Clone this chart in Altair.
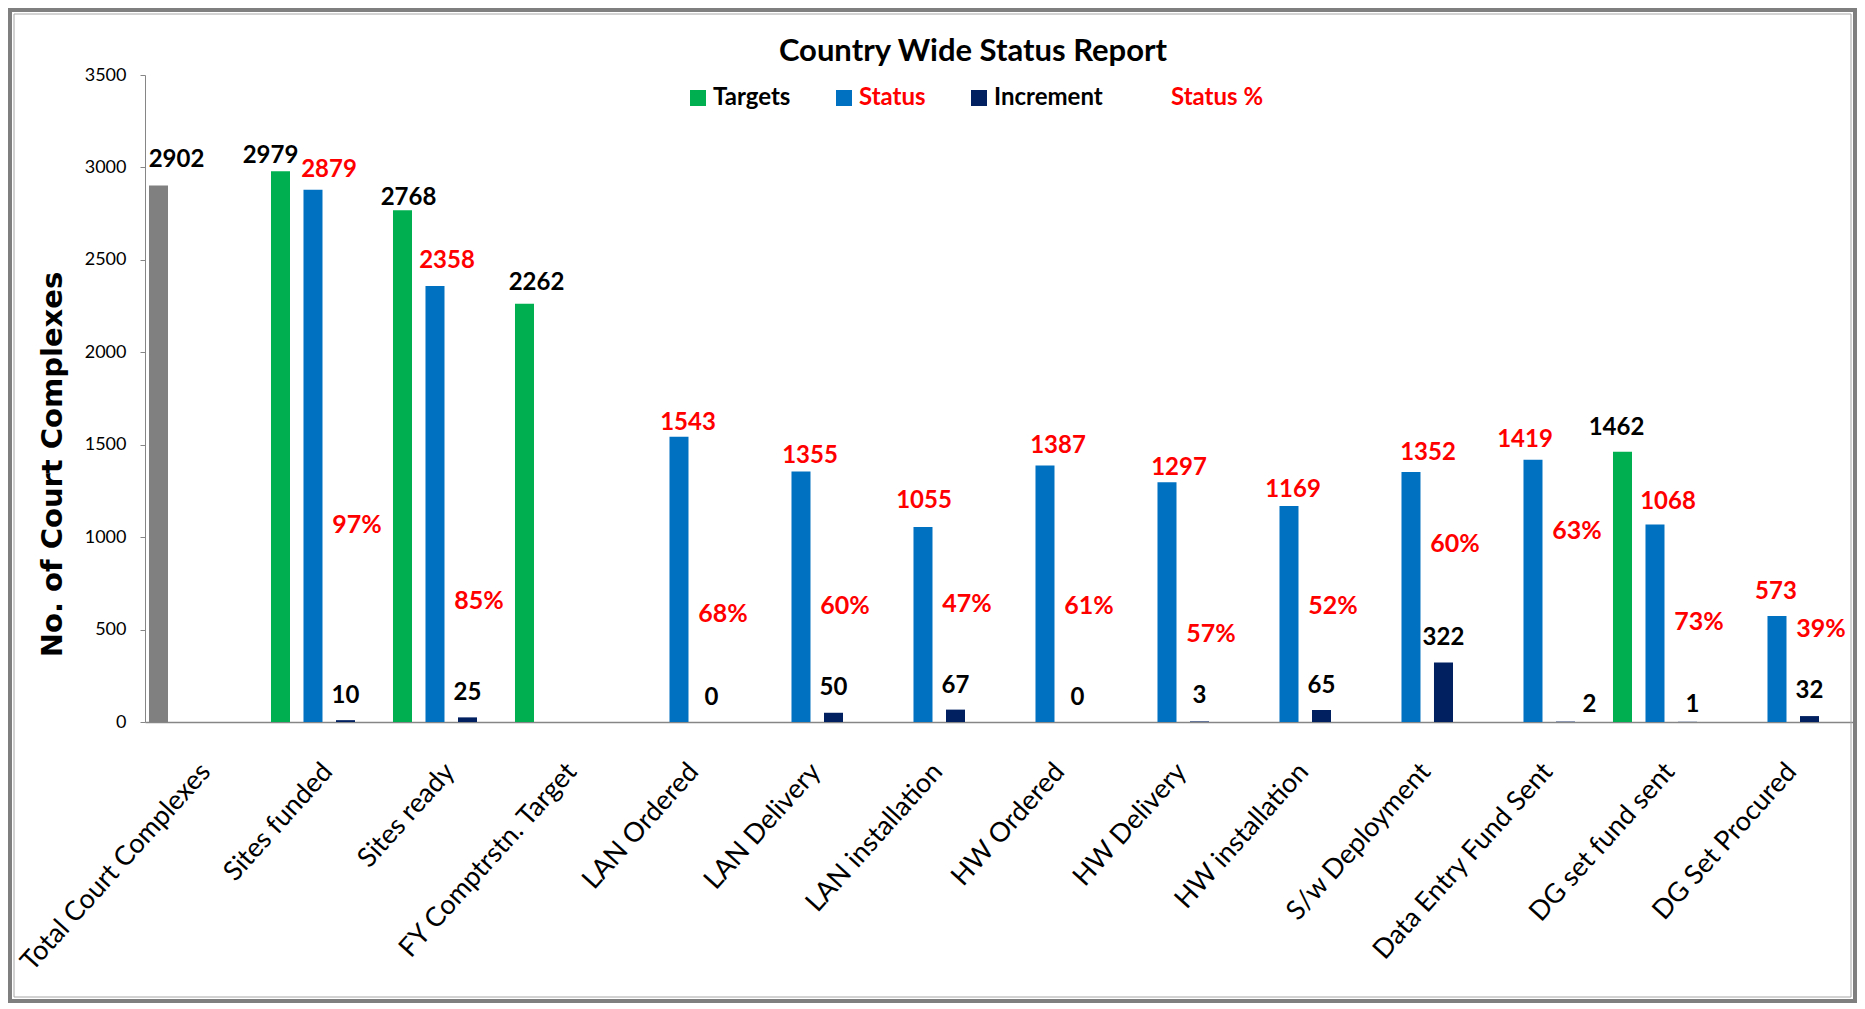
import altair as alt
import pandas as pd

# ---------------- data ----------------
categories = ["Total Court Complexes", "Sites funded", "Sites ready", "FY Comptrstn.  Target",
              "LAN Ordered", "LAN Delivery", "LAN installation", "HW Ordered", "HW Delivery",
              "HW installation", "S/w Deployment", "Data Entry Fund Sent", "DG set fund sent",
              "DG Set Procured"]
targets = [2902, 2979, 2768, 2262, None, None, None, None, None, None, None, None, 1462, None]
status = [None, 2879, 2358, None, 1543, 1355, 1055, 1387, 1297, 1169, 1352, 1419, 1068, 573]
increment = [None, 10, 25, None, 0, 50, 67, 0, 3, 65, 322, 2, 1, 32]
status_pct = [None, 97, 85, None, 68, 60, 47, 61, 57, 52, 60, 63, 73, 39]

# ---------------- label layout (hand placement in the original) ----------------
# height (in axis units) at which each Status % label sits
pct_label_at = [None, 1066, 656, None, 584, 629, 638, 629, 476, 629, 963, 1035, 539, 503]
# horizontal / vertical nudges (px) of the value labels
target_nudge_x = [18, -10, 6, 12, 0, 0, 0, 0, 0, 0, 0, 0, -6, 0]
target_nudge_y = [19, 8, 5, 14, 0, 0, 0, 0, 0, 0, 0, 0, 17, 0]
status_nudge_x = [0, 16, 12, 0, 9, 9, 1, 13, 12, 4, 17, -8, 13, -1]
status_nudge_y = [0, 13, 18, 0, 7, 9, 19, 13, 7, 9, 12, 13, 16, 17]
incr_nudge_x = [0, 0, 0, 0, 0, 0, 0, 0, 0, 0, 0, 24, 5, 0]
incr_nudge_y = [0, 17, 17, 0, 17, 18, 17, 17, 18, 17, 17, 10, 10, 18]

series_names = ["Targets", "Status", "Increment"]
legend_names = ["Targets", "Status", "Increment", "Status %"]

rows = []
for i, c in enumerate(categories):
    for s, arr, nx, ny in zip(series_names, [targets, status, increment],
                              [target_nudge_x, status_nudge_x, incr_nudge_x],
                              [target_nudge_y, status_nudge_y, incr_nudge_y]):
        v = arr[i]
        if v is not None:
            key = "Total" if (s == "Targets" and c == "Total Court Complexes") else s
            rows.append({"category": c, "series": s, "value": v, "colorkey": key,
                         "ndx": nx[i], "ndy": -ny[i]})
df = pd.DataFrame(rows)

pct_rows = []
for i, c in enumerate(categories):
    if status_pct[i] is not None:
        pct_rows.append({"category": c, "value": pct_label_at[i], "label": f"{status_pct[i]}%"})
pct_df = pd.DataFrame(pct_rows)

# ---------------- style ----------------
FONT = "Lato, Liberation Sans, sans-serif"
GREEN, BLUE, NAVY, GRAY, RED = "#00B050", "#0070C0", "#002060", "#808080", "#FF0000"
W, H = 1708, 647

x_enc = alt.X("category:N", sort=categories,
              scale=alt.Scale(paddingInner=0, paddingOuter=0),
              axis=alt.Axis(title=None, ticks=False, tickSize=0, domainColor="#868686",
                            domainWidth=1.5, labelAngle=-48, labelAlign="right",
                            labelBaseline="middle", labelFont=FONT, labelFontSize=27,
                            labelColor="#000000", labelPadding=45, labelOffset=0,
                            labelLimit=500, labelOverlap=False))
xo_enc = alt.XOffset("series:N",
                     scale=alt.Scale(domain=series_names, paddingInner=0.415,
                                     paddingOuter=0.5845, align=0.105))
y_enc = alt.Y("value:Q",
              scale=alt.Scale(domain=[0, 3500], nice=False, zero=True),
              axis=alt.Axis(values=list(range(0, 3501, 500)), format="d", grid=False, tickSize=5,
                            tickColor="#868686", domainColor="#868686", domainWidth=1,
                            labelFont=FONT, labelFontSize=18, labelColor="#000000",
                            labelPadding=14, title="No. of Court Complexes",
                            titleFont="DejaVu Sans", titleFontSize=29, titleFontWeight="bold",
                            titleColor="#000000", titleX=-93, titleY=389,
                            titleBaseline="middle", titleAlign="center"))

legend = alt.Legend(title=None, orient="none", legendX=541, legendY=11, direction="horizontal",
                    columns=4, columnPadding=41, values=legend_names, symbolType="square",
                    symbolSize=256, symbolStrokeWidth=0, labelFont=FONT, labelFontSize=24,
                    labelFontWeight="bold", labelOffset=3, padding=0,
                    labelColor={"expr": "datum.value === 'Status' || datum.value === 'Status %' ? '#FF0000' : '#000000'"})

bars = alt.Chart(df).mark_bar().encode(
    x=x_enc, xOffset=xo_enc, y=y_enc,
    color=alt.Color("colorkey:N",
                    scale=alt.Scale(domain=["Targets", "Status", "Increment", "Status %", "Total"],
                                    range=[GREEN, BLUE, NAVY, "transparent", GRAY]),
                    legend=legend),
)

lab_font = dict(font=FONT, fontSize=24, fontWeight="bold", baseline="alphabetic", align="center",
                dx={"expr": "datum.ndx"}, dy={"expr": "datum.ndy"})

target_labels = alt.Chart(df).transform_filter("datum.series === 'Targets'").mark_text(
    color="#000000", **lab_font).encode(
    x=x_enc, xOffset=xo_enc, y=y_enc, text=alt.Text("value:Q", format="d"))

status_labels = alt.Chart(df).transform_filter("datum.series === 'Status'").mark_text(
    color=RED, **lab_font).encode(
    x=x_enc, xOffset=xo_enc, y=y_enc, text=alt.Text("value:Q", format="d"))

incr_labels = alt.Chart(df).transform_filter("datum.series === 'Increment'").mark_text(
    color="#000000", **lab_font).encode(
    x=x_enc, xOffset=xo_enc, y=y_enc, text=alt.Text("value:Q", format="d"))

pct_labels = alt.Chart(pct_df).mark_text(
    color=RED, dx=29, font=FONT, fontSize=25, fontWeight="bold", baseline="middle",
    align="center").encode(x=x_enc, y=y_enc, text="label:N")

one = alt.Data(values=[{"k": 1}])
title = alt.Chart(one).mark_text(
    text="Country Wide Status Report", font=FONT, fontSize=31, fontWeight="bold",
    color="#000000", align="center", baseline="alphabetic").encode(
    x=alt.value(828), y=alt.value(-14))

frame_outer = alt.Chart(one).mark_rect(filled=False, stroke="#7F7F7F", strokeWidth=4).encode(
    x=alt.value(-135), x2=alt.value(1710), y=alt.value(-65), y2=alt.value(926))
frame_inner = alt.Chart(one).mark_rect(filled=False, stroke="#A6A6A6", strokeWidth=1).encode(
    x=alt.value(-131), x2=alt.value(1706), y=alt.value(-61), y2=alt.value(922))

chart = alt.layer(
    frame_outer, frame_inner, bars, target_labels, status_labels, incr_labels, pct_labels, title
).properties(
    width=W, height=H,
    autosize=alt.AutoSizeParams(type="none"),
    padding={"left": 137, "top": 67, "right": 4, "bottom": 282},
    background="#FFFFFF",
).configure_view(strokeWidth=0)

chart.save("out.html", embed_options={"renderer": "svg", "actions": False})
